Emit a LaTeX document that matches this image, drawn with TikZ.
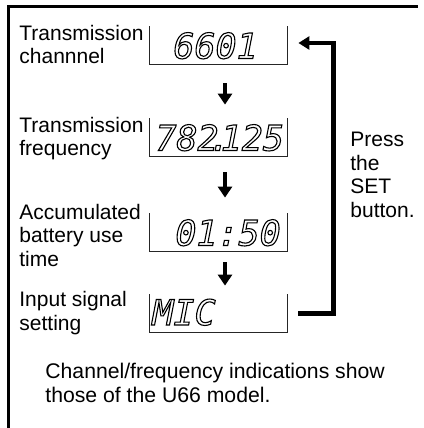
\documentclass[tikz,border=0pt]{standalone}
\usepackage{fontspec}
\setmainfont{Liberation Sans}
\newfontfamily\lcdfont{DejaVu Sans Mono}
\usepackage{tikz}
\usetikzlibrary{arrows.meta}
\newcommand{\lcd}[1]{\special{pdf:literal direct 1 Tr 0.55 w}#1\special{pdf:literal direct 0 Tr}}
\tikzset{
    lcdbox/.style={
        minimum width=68.5pt,
        minimum height=19pt,
        inner sep=0pt
    },
    lcdline/.style={
        line width=0.5pt,
        black!85
    },
    lcdtext/.style={
        anchor=base west,
        inner sep=0pt,
        font=\lcdfont\itshape\fontsize{17.5}{17.5}\selectfont
    },
    lefttext/.style={
        anchor=base west,
        inner sep=0pt,
        align=left,
        font=\fontsize{10.5}{11.75}\selectfont
    },
    downarrow/.style={
        line width=2.2pt,
        -{Triangle[length=5.5pt, width=7pt]}
    },
    setarrow/.style={
        line width=2.1pt,
        -{Triangle[length=5.5pt, width=6.5pt]}
    }
}

\begin{document}
\begin{tikzpicture}[x=0.5pt, y=-0.5pt]
	\useasboundingbox (0,0) rectangle (423,428);
	\draw[line width=1.5pt] (8,428) --(8,6) --(418,6);

	\node [lcdbox] (box1) at (218.5,45.5) {};
	\node [lcdbox] (box2) at (218.5,137.5) {};
	\node [lcdbox] (box3) at (218.5,232.5) {};
	\node [lcdbox] (box4) at (218.5,313.5) {};

	\draw[lcdline] (box1.north west) --(box1.south west) --(box1.south east) --(box1.north east);
	\draw[lcdline] (box2.north west) --(box2.south west) --(box2.south east) --(box2.north east);
	\draw[lcdline] (box3.north west) --(box3.south west) --(box3.south east) --(box3.north east);
	\draw[lcdline] (box4.north west) --(box4.south west) --(box4.south east) --(box4.north east);

	\node [lcdtext] (num1) at (173,58.5) {\lcd{6601}};
	\node [lcdtext] (num2) at (155,150.5) {\lcd{782\kern-.27em.\kern-.27em125}};
	\node [lcdtext] (num3) at (175,245.5) {\lcd{01:50}};
	\node [lcdtext] (num4) at (152,325) {\lcd{MIC}};

	% base anchor sits on the last line
	\node [lefttext] (lab1) at (19,63.5) {Transmission\\channnel};
	\node [lefttext] (lab2) at (19,155.5) {Transmission\\frequency};
	\node [lefttext] (lab3) at (19,266) {Accumulated\\battery use\\time};
	\node [lefttext] (lab4) at (19,330) {Input signal\\setting};

	\draw[downarrow, shorten <=9.25pt, shorten >=6.75pt] ([xshift=3.25pt]box1.south) to ([xshift=3.25pt]box2.north);
	\draw[downarrow, shorten <=7.75pt, shorten >=7.75pt] ([xshift=3.25pt]box2.south) to ([xshift=3.25pt]box3.north);
	\draw[downarrow, shorten <=5.25pt, shorten >=4.25pt] ([xshift=3.25pt]box3.south) to ([xshift=3.25pt]box4.north);

	\draw[setarrow] ([xshift=5.5pt]box4.east) --++(35,0) |- ([xshift=5.5pt, yshift=1.25pt]box1.east);
	\node [lefttext] (press) at (350,217) {Press\\the\\SET\\button.};

	\node [lefttext, font=\fontsize{10.6}{12}\selectfont] (note) at (45,402) {Channel/frequency indications show\\those of the U66 model.};
\end{tikzpicture}
\end{document}
